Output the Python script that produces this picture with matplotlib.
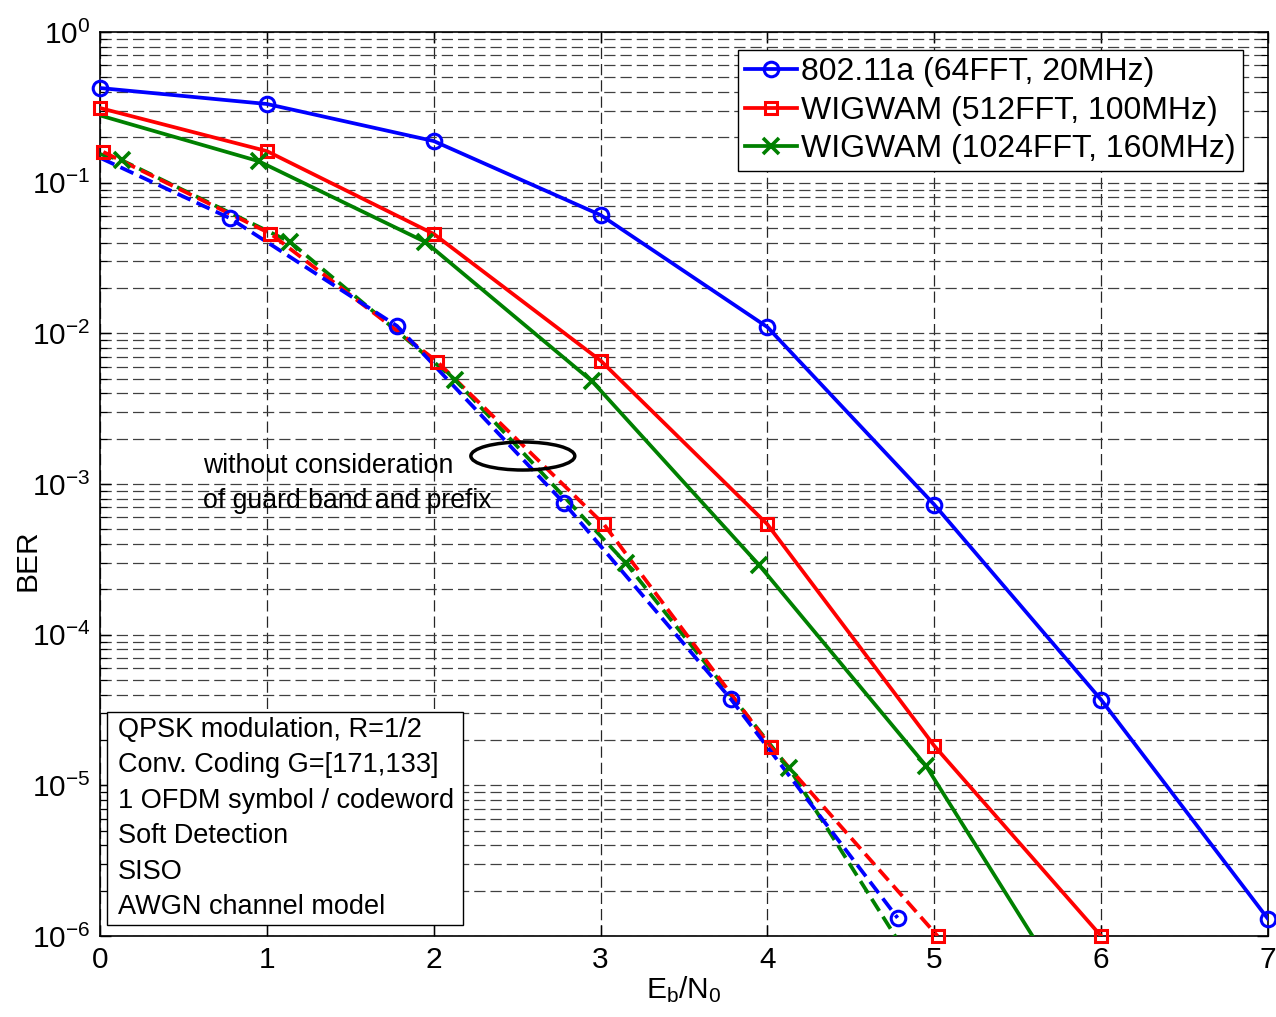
import numpy as np
import matplotlib
matplotlib.use('Agg')
import matplotlib.pyplot as plt
from matplotlib.lines import Line2D
from matplotlib.patches import Ellipse, Rectangle

plt.rcParams['font.family'] = ['Liberation Sans', 'DejaVu Sans']
plt.rcParams['mathtext.fontset'] = 'custom'
plt.rcParams['mathtext.rm'] = 'Liberation Sans'
plt.rcParams['mathtext.it'] = 'Liberation Sans:italic'
plt.rcParams['mathtext.default'] = 'regular'

# BER curves
ebn0_11a = [0, 1, 2, 3, 4, 5, 6, 7]
ber_11a = [0.425, 0.333, 0.189, 0.061, 0.011, 7.3e-4, 3.7e-5, 1.3e-6]
ebn0_512 = [0, 1, 2, 3, 4, 5, 6]
ber_512 = [0.313, 0.162, 0.0457, 6.6e-3, 5.4e-4, 1.83e-5, 1.0e-6]
ebn0_1024 = [-0.05, 0.95, 1.95, 2.95, 3.95, 4.95, 5.95]
ber_1024 = [0.29, 0.139, 0.0404, 4.8e-3, 2.9e-4, 1.35e-5, 2.3e-7]

# without guard band and prefix (dashed)
ebn0_11a_ng = [-0.22, 0.78, 1.78, 2.78, 3.78, 4.78]
ber_11a_ng = [0.19, 0.058, 0.0112, 7.5e-4, 3.75e-5, 1.32e-6]
ebn0_512_ng = [0.02, 1.02, 2.02, 3.02, 4.02, 5.02]
ber_512_ng = [0.16, 0.046, 6.5e-3, 5.4e-4, 1.8e-5, 1.0e-6]
ebn0_1024_ng = [-0.87, 0.13, 1.14, 2.13, 3.15, 4.13, 5.13]
ber_1024_ng = [0.29, 0.141, 0.0404, 4.9e-3, 3.0e-4, 1.3e-5, 2.3e-7]

labels = ['802.11a (64FFT, 20MHz)', 'WIGWAM (512FFT, 100MHz)', 'WIGWAM (1024FFT, 160MHz)']
info_lines = ['QPSK modulation, R=1/2', 'Conv. Coding G=[171,133]',
              '1 OFDM symbol / codeword', 'Soft Detection', 'SISO',
              'AWGN channel model']

blue, red, green = (0, 0, 1), (1, 0, 0), (0, 0.5, 0)
mk = {'o': dict(marker='o', ms=10.5, mew=2.2, mfc='none'),
      's': dict(marker='s', ms=9, mew=2.2, mfc='none'),
      'x': dict(marker='x', ms=12, mew=2.6)}
dash = (0, (3.8, 1.8))
LW = 2.7
XMIN, XMAX, YMIN, YMAX = 0, 7, 1e-6, 1


def curve(ax, x, y, color, m, ls):
    x = np.array(x)
    y = np.array(y)
    ax.plot(x, y, color=color, lw=LW, linestyle=ls, zorder=3)
    vis = (x >= XMIN) & (x <= XMAX) & (y >= YMIN * 0.999)
    ax.plot(x[vis], y[vis], linestyle='none', color=color, mec=color,
            clip_on=False, zorder=4, **mk[m])


fig, ax = plt.subplots(figsize=(12.76, 10.17), dpi=100)
fig.subplots_adjust(left=0.0784, right=0.9937, top=0.9685, bottom=0.0796)

curve(ax, ebn0_11a, ber_11a, blue, 'o', '-')
curve(ax, ebn0_512, ber_512, red, 's', '-')
curve(ax, ebn0_1024, ber_1024, green, 'x', '-')
curve(ax, ebn0_1024_ng, ber_1024_ng, green, 'x', dash)
curve(ax, ebn0_512_ng, ber_512_ng, red, 's', dash)
curve(ax, ebn0_11a_ng, ber_11a_ng, blue, 'o', dash)

ax.set_yscale('log')
ax.set_xlim(XMIN, XMAX)
ax.set_ylim(YMIN, YMAX)
ax.set_xticks(range(8))
ax.set_yticks([10.0 ** k for k in range(-6, 1)])
ax.grid(True, which='both', axis='y', color='0.25', lw=0.9, linestyle=(0, (9, 4)))
ax.grid(True, which='major', axis='x', color='0.15', lw=0.9, linestyle=(0, (9, 4)))
ax.tick_params(which='both', direction='in', top=True, right=True, labelsize=21.5)
ax.tick_params(which='major', length=8, width=1, pad=7)
ax.tick_params(which='minor', length=5, width=0.8)
for s in ax.spines.values():
    s.set_linewidth(1.2)

ax.set_xlabel(r'E$_\mathrm{b}$/N$_\mathrm{0}$', fontsize=21.5, labelpad=0)
ax.set_ylabel('BER', fontsize=21.5, labelpad=2)
ax.yaxis.set_label_coords(-0.05, 1 - (560 - 32) / 904)

handles = [Line2D([], [], color=c, lw=LW, mec=c, **mk[m])
           for c, m in zip([blue, red, green], ['o', 's', 'x'])]
leg = ax.legend(handles, labels, loc='upper right',
                bbox_to_anchor=(1 - 25 / 1168, 1 - 18 / 904), borderaxespad=0,
                fontsize=23, handlelength=1.6, handletextpad=0.15,
                labelspacing=0.27, borderpad=0.22, fancybox=False,
                framealpha=1, edgecolor='k')
leg.get_frame().set_linewidth(1)

# annotation for the dashed curves
ax.add_patch(Ellipse((0.362, 0.531), 0.089, 0.031, transform=ax.transAxes,
                     fill=False, edgecolor='k', lw=2.5, zorder=5))
for i, t in enumerate(['without consideration', 'of guard band and prefix']):
    ax.text(103 / 1168, 1 - (473 + 35 * i - 32) / 904, t, transform=ax.transAxes,
            fontsize=19.2, va='baseline', ha='left', zorder=5)

# info box
ax.add_patch(Rectangle((0.006, 0.0122), 0.305, 0.236, transform=ax.transAxes,
                       facecolor='white', edgecolor='k', lw=1, zorder=6))
for i, t in enumerate(info_lines):
    ax.text(18 / 1168, 1 - (737 + 35.4 * i - 32) / 904, t, transform=ax.transAxes,
            fontsize=19.5, va='baseline', ha='left', zorder=7)

fig.savefig('out.png', dpi=100)
